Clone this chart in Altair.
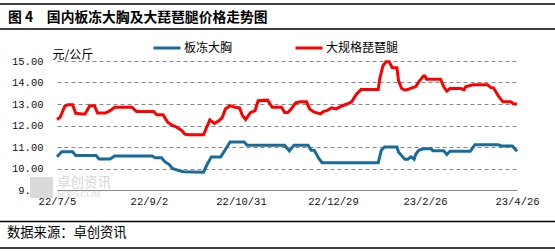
import altair as alt
import pandas as pd

# ---- data (day offset from 2022-07-05, price 元/公斤) ----
series_names = ["板冻大胸", "大规格琵琶腿"]
series_colors = ["#186c9c", "#ff0000"]

blue_days = [0, 3, 10, 12, 25, 27, 34, 37, 61, 63, 67, 69, 72, 74, 77, 81, 94, 96, 99, 105,
             109, 111, 120, 122, 146, 149, 152, 161, 163, 165, 168, 170, 206, 208, 210, 218,
             219, 221, 223, 225, 227, 229, 230, 232, 235, 240, 241, 248, 250, 252, 265, 268,
             283, 285, 292, 295]
blue_vals = [10.55, 10.78, 10.78, 10.6, 10.6, 10.44, 10.44, 10.58, 10.58, 10.5, 10.5, 10.33,
             10.18, 10.0, 9.93, 9.85, 9.83, 10.15, 10.54, 10.54, 11.0, 11.23, 11.23, 11.08,
             11.08, 10.82, 11.08, 11.08, 10.85, 10.85, 10.46, 10.27, 10.27, 10.85, 11.0, 11.0,
             10.77, 10.6, 10.43, 10.43, 10.54, 10.43, 10.65, 10.85, 10.92, 10.92, 10.82, 10.82,
             10.65, 10.8, 10.8, 11.1, 11.1, 11.05, 11.05, 10.8]

red_days = [0, 2, 5, 7, 10, 12, 16, 18, 21, 24, 26, 31, 34, 37, 48, 51, 62, 64, 68, 71, 74,
            76, 80, 82, 84, 94, 96, 98, 101, 104, 106, 108, 111, 114, 117, 119, 121, 124, 127,
            129, 135, 138, 144, 146, 148, 150, 153, 156, 160, 162, 165, 169, 171, 173, 176,
            179, 183, 186, 189, 192, 195, 206, 207, 209, 211, 213, 215, 218, 219, 221, 223,
            225, 227, 230, 232, 235, 236, 237, 246, 248, 250, 252, 259, 261, 262, 265, 267,
            276, 278, 280, 283, 286, 291, 293, 295]
red_vals = [12.28, 12.38, 12.9, 12.97, 12.97, 12.57, 12.54, 12.54, 12.92, 12.92, 12.58, 12.58,
            12.69, 12.85, 12.85, 12.65, 12.65, 12.5, 12.5, 12.15, 12.0, 11.95, 11.77, 11.6,
            11.57, 11.57, 11.92, 12.26, 12.1, 12.23, 12.38, 12.77, 12.92, 12.85, 12.82, 12.46,
            12.28, 12.6, 12.69, 13.15, 13.18, 12.85, 12.85, 12.6, 12.6, 12.75, 13.05, 13.1,
            13.1, 12.77, 12.62, 12.54, 12.66, 12.69, 12.82, 12.77, 12.92, 13.0, 13.1, 13.46,
            13.67, 13.67, 14.18, 14.77, 14.97, 14.97, 14.69, 14.69, 14.1, 13.72, 13.65, 13.67,
            13.74, 13.8, 14.03, 14.3, 14.3, 14.15, 14.15, 13.8, 13.6, 13.72, 13.72, 13.66, 13.8,
            13.86, 13.9, 13.9, 13.77, 13.74, 13.38, 13.1, 13.1, 13.0, 13.0]

y_ticks = [9, 10, 11, 12, 13, 14, 15]
x_tick_dates = [(2022, 7, 5), (2022, 9, 2), (2022, 10, 31), (2022, 12, 29), (2023, 2, 26), (2023, 4, 26)]

title_text = "图 4　国内板冻大胸及大琵琶腿价格走势图"
unit_text = "元/公斤"
source_text = "数据来源：卓创资讯"
wm_cn = "卓创资讯"
wm_en = "SCI99.COM"

# ---- build table ----
base = pd.Timestamp("2022-07-05")
df = pd.concat([
    pd.DataFrame({"date": base + pd.to_timedelta(blue_days, unit="D"), "price": blue_vals,
                  "series": series_names[0]}),
    pd.DataFrame({"date": base + pd.to_timedelta(red_days, unit="D"), "price": red_vals,
                  "series": series_names[1]}),
])

CJK = "Noto Sans CJK SC"
MONO = "Liberation Mono"

x_vals = [alt.DateTime(year=y, month=m, date=d) for (y, m, d) in x_tick_dates]

lines = alt.Chart(df).mark_line(strokeWidth=3, interpolate="linear").encode(
    x=alt.X("date:T",
            scale=alt.Scale(domain=[x_vals[0], x_vals[-1]], nice=False),
            axis=alt.Axis(values=x_vals, format="%y/%-m/%-d", title=None, grid=False,
                          ticks=False, domain=True, domainColor="#888888", domainWidth=1,
                          labelFont=MONO, labelFontSize=10.5, labelColor="#111111",
                          labelPadding=6, labelFlush=False, labelOverlap=False,
                          labelBound=False)),
    y=alt.Y("price:Q",
            scale=alt.Scale(domain=[9, 15], nice=False, zero=False),
            axis=alt.Axis(values=y_ticks, format=".2f", title=unit_text, titleAngle=0,
                          titleAlign="left", titleBaseline="middle", titleX=-5, titleY=-7,
                          titleFont=CJK, titleFontSize=12, titleFontWeight="normal",
                          titleColor="black", domain=False, ticks=False, grid=True,
                          gridDash=[4, 3], gridColor="#888888", gridWidth=1,
                          labelFont=MONO, labelFontSize=10.5, labelColor="#111111",
                          labelPadding=14)),
    color=alt.Color("series:N",
                    scale=alt.Scale(domain=series_names, range=series_colors),
                    legend=alt.Legend(orient="none", legendX=95, legendY=-28,
                                      direction="horizontal", title=None,
                                      symbolType="stroke", symbolStrokeWidth=3,
                                      symbolSize=729, labelFont=CJK, labelFontSize=12,
                                      labelColor="black", labelOffset=2, columnPadding=56,
                                      padding=0, rowPadding=0)),
)


def txt(s, x, y, size, color="black", font=CJK, weight="normal", align="left"):
    return alt.Chart(pd.DataFrame({"t": [s]})).mark_text(
        align=align, baseline="middle", font=font, fontSize=size, fontWeight=weight,
        color=color).encode(x=alt.value(x), y=alt.value(y), text="t:N")


def hrule(y, w=1.5):
    return alt.Chart(pd.DataFrame({"k": [0]})).mark_rule(color="black", strokeWidth=w).encode(
        x=alt.value(-57), x2=alt.value(498), y=alt.value(y))


wm_rect = alt.Chart(pd.DataFrame({"k": [0]})).mark_rect(color="#dadada").encode(
    x=alt.value(-27), x2=alt.value(-4), y=alt.value(116), y2=alt.value(137))

chart = alt.layer(
    wm_rect,
    txt(wm_cn, 0, 122, 13.5, color="#d6d6d6"),
    txt(wm_en, 0, 132.5, 8.5, color="#d6d6d6", font="Liberation Serif"),
    lines,
    hrule(-57),
    hrule(-32),
    hrule(160.5),
    hrule(187),
    txt(title_text, -49, -43, 13.8, weight="bold"),
    txt(source_text, -50, 172, 13.3),
).properties(
    width=460, height=129,
    padding={"left": 57, "top": 61, "right": 38, "bottom": 62},
    autosize="none",
    background="white",
).configure_view(stroke=None)

chart.save("out.html", embed_options={"renderer": "svg", "actions": False})
